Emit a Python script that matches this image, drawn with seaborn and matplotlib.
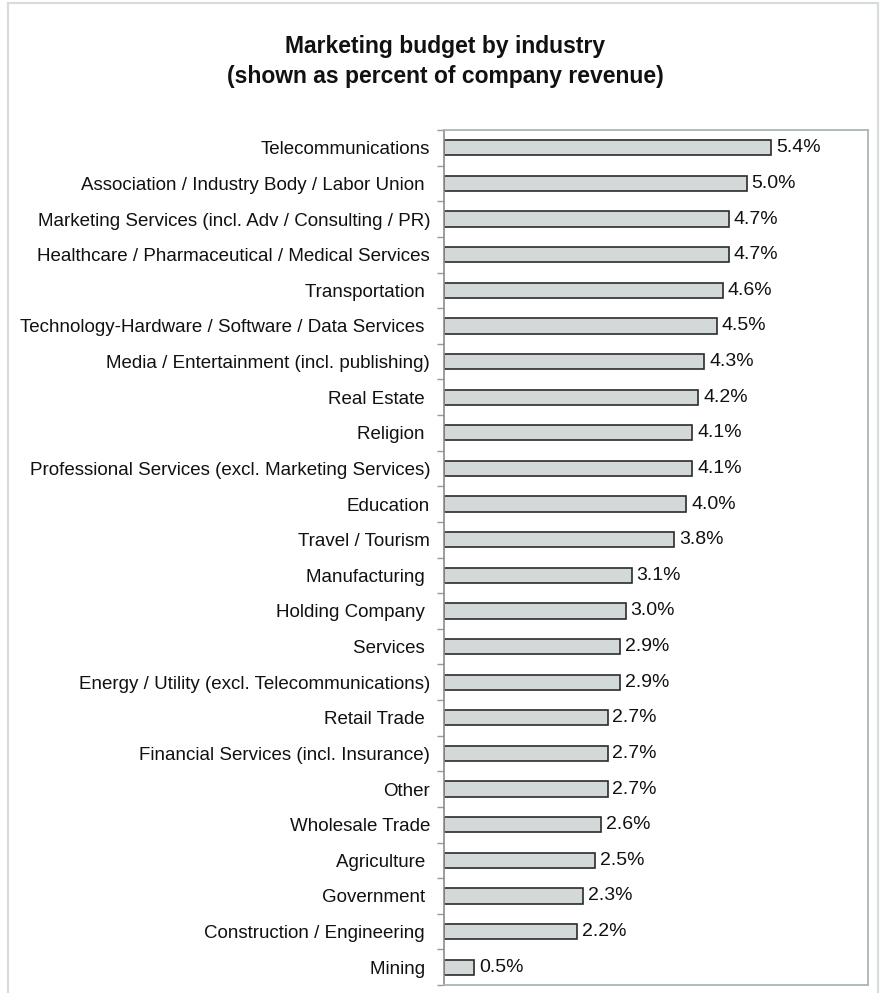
import numpy as np
import pandas as pd
import matplotlib
matplotlib.use("Agg")
import matplotlib.pyplot as plt
from matplotlib.patches import Rectangle
import seaborn as sns

industries = [
    "Telecommunications",
    "Association / Industry Body / Labor Union ",
    "Marketing Services (incl. Adv / Consulting / PR)",
    "Healthcare / Pharmaceutical / Medical Services",
    "Transportation ",
    "Technology-Hardware / Software / Data Services ",
    "Media / Entertainment (incl. publishing)",
    "Real Estate ",
    "Religion ",
    "Professional Services (excl. Marketing Services)",
    "Education",
    "Travel / Tourism",
    "Manufacturing ",
    "Holding Company ",
    "Services ",
    "Energy / Utility (excl. Telecommunications)",
    "Retail Trade ",
    "Financial Services (incl. Insurance)",
    "Other",
    "Wholesale Trade",
    "Agriculture ",
    "Government ",
    "Construction / Engineering ",
    "Mining ",
]
budget_pct = [5.4, 5.0, 4.7, 4.7, 4.6, 4.5, 4.3, 4.2, 4.1, 4.1, 4.0, 3.8,
              3.1, 3.0, 2.9, 2.9, 2.7, 2.7, 2.7, 2.6, 2.5, 2.3, 2.2, 0.5]

title_lines = ["Marketing budget by industry",
               "(shown as percent of company revenue)"]

df = pd.DataFrame({"industry": industries, "pct": budget_pct})

sns.set_theme(style="white")
plt.rcParams["font.family"] = ["Liberation Sans", "DejaVu Sans"]

fig = plt.figure(figsize=(8.84, 9.93), dpi=100)
fig.patch.set_facecolor("white")

# light frame around the whole chart (open at the bottom)
fig.add_artist(Rectangle((8 / 884, -0.02), 870 / 884, 1.02 - 3 / 993,
                         transform=fig.transFigure, fill=False,
                         edgecolor="#d9dcdc", linewidth=1.6, zorder=0))

ax = fig.add_axes([444 / 884, 1 - 985 / 993, 424 / 884, 855 / 993])

sns.barplot(data=df, x="pct", y="industry", orient="h", ax=ax,
            color="#d3d9d9", saturation=1, edgecolor="#2b2b2b",
            linewidth=1.2, width=0.43)

ax.set_xlim(0, 7)
ax.set_ylim(len(industries) - 0.5, -0.5)
ax.set_xlabel("")
ax.set_ylabel("")
ax.set_xticks([])

# category labels on the left, separator ticks between categories
ax.tick_params(axis="y", which="major", length=0, pad=10, labelsize=13.5,
               labelcolor="#111111")
ax.set_yticks(np.arange(-0.5, len(industries), 1.0), minor=True)
ax.tick_params(axis="y", which="minor", length=5, width=1, color="#9a9a9a",
               direction="out", left=True)

for side in ["top", "right", "bottom"]:
    ax.spines[side].set_color("#a9b6b6")
    ax.spines[side].set_linewidth(1.3)
ax.spines["left"].set_color("#8c8c8c")
ax.spines["left"].set_linewidth(1.2)

for container in ax.containers:
    ax.bar_label(container, labels=[f"{v:.1f}%" for v in budget_pct],
                 padding=3.5, fontsize=14, color="#111111")

fig.text(0.504, 1 - 46 / 993, title_lines[0], ha="center", va="center",
         fontsize=16.5, fontweight="bold", color="#111111")
fig.text(0.504, 1 - 77 / 993, title_lines[1], ha="center", va="center",
         fontsize=16.5, fontweight="bold", color="#111111")

fig.savefig("out.png", dpi=100, facecolor="white")
